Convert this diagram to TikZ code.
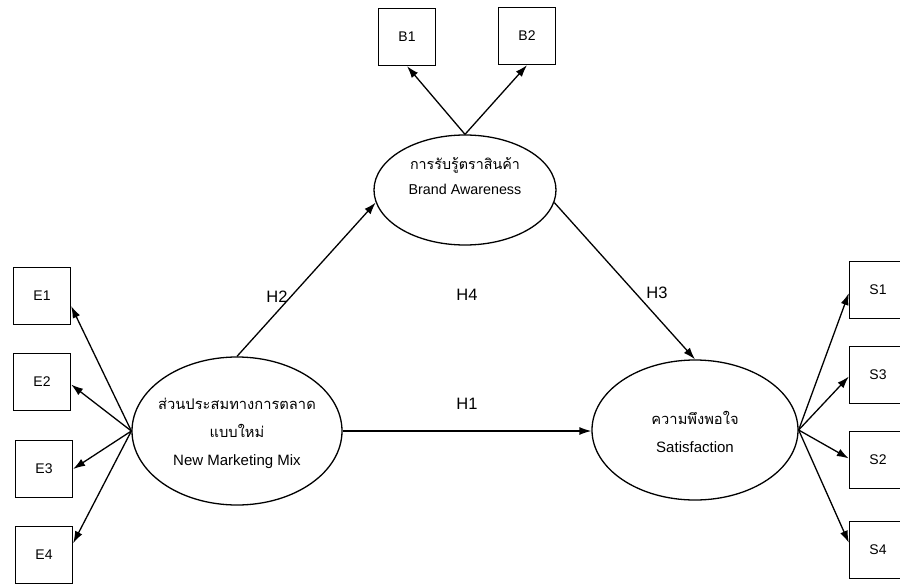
\documentclass[tikz,border=0pt]{standalone}
\usepackage{fontspec}
\setmainfont{Liberation Sans}
\newfontfamily\thaifont[Script=Thai]{Loma}
\usetikzlibrary{shapes.geometric, arrows.meta, positioning}

\begin{document}
\begin{tikzpicture}[x=1pt, y=-1pt, line width=1.3pt,
  item/.style={draw, rectangle, minimum width=57pt, minimum height=57pt, inner sep=0pt, font=\fontsize{14}{16}\selectfont},
  latent/.style={draw, ellipse, inner sep=0pt},
  lbl/.style={align=center, font=\fontsize{15}{28}\selectfont},
  path/.style={-{Latex[length=12pt,width=8pt]}},
  hyp/.style={font=\fontsize{16.5}{18}\selectfont}]
\useasboundingbox (0,0) rectangle (900,586);
\clip (0,0) rectangle (900,586);

% latent variables
\node[latent, minimum width=210pt, minimum height=148pt] (nmm) at (237,431) {};
\node[latent, minimum width=182pt, minimum height=110pt] (ba) at (465,190) {};
\node[latent, minimum width=206pt, minimum height=140pt] (sat) at (695,430) {};
\node[lbl] (nmmtxt) at (237,433) {{\thaifont\fontsize{14.7}{28}\selectfont ส่วนประสมทางการตลาด}\\{\thaifont\fontsize{14.7}{28}\selectfont แบบใหม่}\\New Marketing Mix};
\node[lbl, font=\fontsize{14.3}{25}\selectfont] (batxt) at (465,176) {{\thaifont การรับรู้ตราสินค้า}\\Brand Awareness};
\node[lbl] (sattxt) at (695,432) {{\thaifont\fontsize{14.7}{28}\selectfont ความพึงพอใจ}\\Satisfaction};

% indicators
\node[item] (e1) at (42,296) {E1};
\node[item] (e2) at (42,382) {E2};
\node[item] (e3) at (44,469) {E3};
\node[item] (e4) at (44,555) {E4};
\node[item] (b1) at (407,37) {B1};
\node[item] (b2) at (527,36) {B2};
\node[item] (s1) at (878,290) {S1};
\node[item] (s3) at (878,375) {S3};
\node[item] (s2) at (878,460) {S2};
\node[item] (s4) at (878,550) {S4};

% loadings
\draw[path] (nmm.west) -- (e1.-19);
\draw[path] (nmm.west) -- (e2.-5);
\draw[path] (nmm.west) -- (e3.east);
\draw[path] (nmm.west) -- (e4.22);
\draw[path] (ba.north) -- (b1.south);
\draw[path] (ba.north) -- (b2.south);
\draw[path] (sat.east) -- (s1.186);
\draw[path] (sat.east) -- (s3.183);
\draw[path] (sat.east) -- (s2.177);
\draw[path] (sat.east) -- (s4.166);

% hypotheses
\draw[path] (nmm.east) -- (nmm.east -| sat.west);
\draw[path] (nmm.north) -- (ba.188);
\draw[path] (ba.-8) -- (sat.north);
\node[hyp] (h1) at (467,404) {H1};
\node[hyp] (h2) at (277,297) {H2};
\node[hyp] (h3) at (657,293) {H3};
\node[hyp] (h4) at (467,295) {H4};
\end{tikzpicture}
\end{document}
